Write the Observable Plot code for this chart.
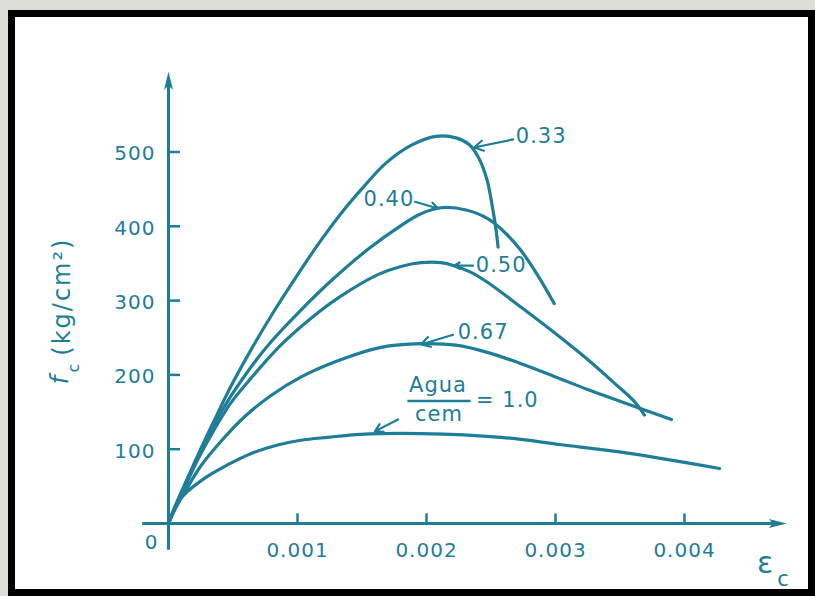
<!DOCTYPE html>
<html><head><meta charset="utf-8">
<script src="https://cdn.jsdelivr.net/npm/d3@7"></script>
<script src="https://cdn.jsdelivr.net/npm/@observablehq/plot@0.6"></script>
<style>
html,body{margin:0;padding:0;}
body{width:815px;height:596px;position:relative;overflow:hidden;background:#dadeD7;}
#frame{position:absolute;left:8px;top:10px;width:807px;height:586px;box-sizing:border-box;border:7px solid #000;background:#fff;}
#chart{position:absolute;left:0;top:0;}
</style></head><body><div id="frame"></div><div id="chart"></div>
<script>
// ---- data (strain εc, stress fc in kg/cm²) ----
const ratios = ["0.33", "0.40", "0.50", "0.67", "1.0"];

const strain033 = [0, 0.000062, 0.000140, 0.000233, 0.000350, 0.000482, 0.000637, 0.000808, 0.000986, 0.001165, 0.001336, 0.001507, 0.001685, 0.001880, 0.002074, 0.002229, 0.002330, 0.002408, 0.002470, 0.002509, 0.002540, 0.002555];
const stress033 = [0, 27, 58, 94, 137, 184, 233, 283, 331, 377, 417, 452, 485, 509, 521, 519, 510, 491, 462, 428, 394, 372];

const strain040 = [0, 0.000062, 0.000140, 0.000233, 0.000350, 0.000482, 0.000637, 0.000792, 0.001025, 0.001282, 0.001546, 0.001802, 0.001957, 0.002113, 0.002307, 0.002478, 0.002617, 0.002734, 0.002866, 0.002990];
const stress040 = [0, 27, 57, 92, 132, 171, 210, 244, 287, 330, 369, 401, 417, 425, 422, 410, 390, 367, 333, 296];

const strain050 = [0, 0.000062, 0.000140, 0.000233, 0.000350, 0.000482, 0.000637, 0.000870, 0.001103, 0.001336, 0.001623, 0.001802, 0.001957, 0.002113, 0.002214, 0.002346, 0.002478, 0.002734, 0.002990, 0.003254, 0.003456, 0.003612, 0.003689];
const stress050 = [0, 26, 54, 88, 125, 162, 195, 240, 276, 306, 335, 346, 351, 351, 347, 338, 324, 291, 257, 220, 189, 164, 146];

const strain067 = [0, 0.000054, 0.000132, 0.000249, 0.000404, 0.000598, 0.000792, 0.001025, 0.001313, 0.001647, 0.001957, 0.002229, 0.002478, 0.002734, 0.002990, 0.003254, 0.003511, 0.003899];
const stress067 = [0, 20, 44, 77, 110, 145, 172, 197, 219, 237, 242, 240, 230, 215, 198, 180, 164, 140];

const strain100 = [0, 0.000031, 0.000078, 0.000140, 0.000217, 0.000326, 0.000458, 0.000637, 0.000831, 0.001025, 0.001235, 0.001491, 0.001957, 0.002579, 0.003045, 0.003511, 0.004272];
const stress100 = [0, 15, 30, 42, 53, 66, 79, 94, 105, 112, 116, 120, 121, 116, 106, 96, 74];

const strainTicks = [0.001, 0.002, 0.003, 0.004];
const strainTickLabels = ["0.001", "0.002", "0.003", "0.004"];
const stressTicks = [100, 200, 300, 400, 500];
const stressTickLabels = ["100", "200", "300", "400", "500"];

// curve labels and their leader arrows (data units)
const labelText = ["0.33", "0.40", "0.50", "0.67"];
const labelStrain = [0.002889, 0.001709, 0.002579, 0.002439];
const labelStress = [521, 436, 347, 258];
const leaderFromStrain = [0.002672, 0.001911, 0.002361, 0.002206, 0.001779];
const leaderFromStress = [517, 433, 347, 254, 140];
const leaderToStrain = [0.002369, 0.002089, 0.002214, 0.001957, 0.001600];
const leaderToStress = [506, 424, 347, 241, 124];

// ---- build tables ----
const strains = [strain033, strain040, strain050, strain067, strain100];
const stresses = [stress033, stress040, stress050, stress067, stress100];
const rows = ratios.flatMap((r, i) => strains[i].map((e, j) => ({ratio: r, e, f: stresses[i][j]})));
const labels = labelText.map((t, i) => ({t, e: labelStrain[i], f: labelStress[i]}));
const leaders = leaderFromStrain.map((e, i) => ({x1: e, y1: leaderFromStress[i], x2: leaderToStrain[i], y2: leaderToStress[i]}));

const teal = "#1e7d97";
const arrowUp = {draw(c) { c.moveTo(0, -12); c.lineTo(4.5, 6); c.lineTo(0, 2); c.lineTo(-4.5, 6); c.closePath(); }};
const arrowRight = {draw(c) { c.moveTo(12, 0); c.lineTo(-6, 4.5); c.lineTo(-2, 0); c.lineTo(-6, -4.5); c.closePath(); }};

const chart = Plot.plot({
  width: 815, height: 596,
  marginLeft: 168, marginRight: 131, marginTop: 151.5, marginBottom: 73,
  x: {domain: [0, 0.004], axis: null},
  y: {domain: [0, 500], axis: null},
  style: "background: transparent; font-family: 'DejaVu Sans', sans-serif; letter-spacing: 1px; overflow: visible;",
  marks: [
    // axes
    Plot.ruleY([0], {x1: -0.0002, x2: 0.0047, stroke: teal, strokeWidth: 3}),
    Plot.ruleX([0], {y1: -36, y2: 590, stroke: teal, strokeWidth: 3}),
    Plot.dot([0], {x: 0, y: 592, symbol: arrowUp, fill: teal, stroke: null, r: 5}),
    Plot.dot([0], {x: 0.0047, y: 0, symbol: arrowRight, fill: teal, stroke: null, r: 5}),
    Plot.ruleX(strainTicks, {x: d => d, y1: 0, y2: 13, stroke: teal, strokeWidth: 2.5}),
    Plot.ruleY(stressTicks, {y: d => d, x1: 0, x2: 0.000093, stroke: teal, strokeWidth: 2.5}),
    Plot.text(strainTicks, {x: d => d, y: 0, text: (d, i) => strainTickLabels[i], dy: 27, fontSize: 20, fill: teal}),
    Plot.text(stressTicks, {x: 0, y: d => d, text: (d, i) => stressTickLabels[i], dx: -13, dy: 2, textAnchor: "end", fontSize: 20, fill: teal}),
    Plot.text([0], {x: 0, y: 0, text: ["0"], dx: -17, dy: 19, fontSize: 20, fill: teal}),
    // axis titles
    Plot.text([0], {x: 0, y: 0, text: ["ε"], dx: 597, dy: 40, fontSize: 30, fill: teal}),
    Plot.text([0], {x: 0, y: 0, text: ["c"], dx: 615, dy: 56, fontSize: 21, fill: teal}),
    Plot.text([0], {x: 0, y: 300, text: ["(kg/cm²)"], dx: -106, dy: -4, rotate: -90, fontSize: 24, fill: teal}),
    Plot.text([0], {x: 0, y: 300, text: ["c"], dx: -95, dy: 67, rotate: -90, fontSize: 16, fill: teal}),
    Plot.text([0], {x: 0, y: 300, text: ["f"], dx: -108, dy: 79, rotate: -90, fontSize: 24, fontStyle: "italic", fill: teal}),
    // curves
    Plot.line(rows, {x: "e", y: "f", z: "ratio", curve: "catmull-rom", stroke: teal, strokeWidth: 3.2}),
    // labels
    Plot.text(labels, {x: "e", y: "f", text: "t", fontSize: 21, fill: teal}),
    Plot.arrow(leaders, {x1: "x1", y1: "y1", x2: "x2", y2: "y2", stroke: teal, strokeWidth: 2.2, headLength: 7}),
    Plot.text([0], {x: 0.002089, y: 186, text: ["Agua"], fontSize: 21, fill: teal}),
    Plot.text([0], {x: 0.002097, y: 147, text: ["cem"], fontSize: 21, fill: teal}),
    Plot.ruleY([165], {x1: 0.001856, x2: 0.002346, stroke: teal, strokeWidth: 2.5}),
    Plot.text([0], {x: 0.002384, y: 165.5, text: ["= 1.0"], textAnchor: "start", fontSize: 21, fill: teal})
  ]
});
d3.select(chart).selectAll("text").filter(function() { return this.textContent === "(kg/cm²)"; }).attr("letter-spacing", "2px");
document.getElementById("chart").appendChild(chart);
</script></body></html>
